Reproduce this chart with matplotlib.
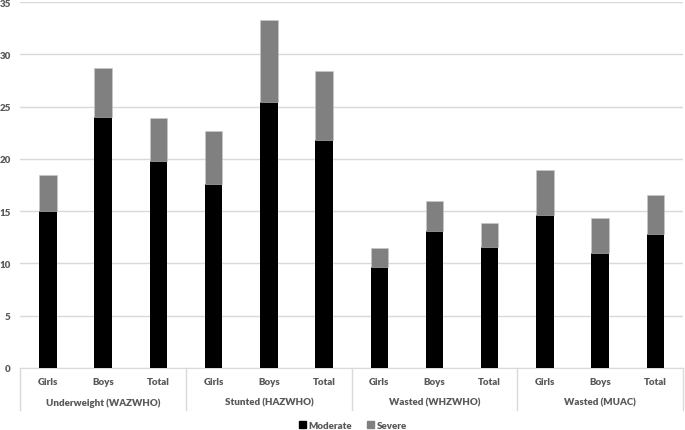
import matplotlib
matplotlib.use("Agg")
import matplotlib.pyplot as plt
from matplotlib.lines import Line2D
from matplotlib.patches import Patch

groups = ["Underweight (WAZWHO)", "Stunted (HAZWHO)", "Wasted (WHZWHO)", "Wasted (MUAC)"]
subcats = ["Girls", "Boys", "Total"]
moderate = [15.0, 24.0, 19.8, 17.6, 25.4, 21.8, 9.7, 13.1, 11.6, 14.6, 11.0, 12.8]
severe = [3.5, 4.7, 4.1, 5.1, 7.9, 6.6, 1.8, 2.9, 2.3, 4.3, 3.3, 3.7]
yticks = [0, 5, 10, 15, 20, 25, 30, 35]

plt.rcParams['font.family'] = ['Lato', 'DejaVu Sans']
txt = '#595959'
fw = 'heavy'
fig = plt.figure(figsize=(6.85, 4.31), dpi=100)
ax = fig.add_axes([0.0298, 0.1439, 0.9672, 0.8491])

n = len(moderate)
x = list(range(n))
w = 0.317
ax.bar(x, moderate, w, color='#000000', label='Moderate', zorder=3)
ax.bar(x, severe, w, bottom=moderate, color='#808080', edgecolor='#c8c8c8',
       linewidth=0.4, label='Severe', zorder=3)

ax.set_xlim(-0.5, n - 0.5)
ax.set_ylim(0, 35)
ax.set_yticks(yticks)
ax.set_yticklabels([str(v) for v in yticks], fontsize=7, fontweight=fw, color=txt)
ax.tick_params(axis='y', length=0, pad=7)
ax.set_xticks([])
ax.grid(axis='y', color='#d9d9d9', linewidth=1, zorder=0)
for s in ['top', 'right', 'left']:
    ax.spines[s].set_visible(False)
ax.spines['bottom'].set_color('#d9d9d9')

tr = ax.get_xaxis_transform()
for i in range(n):
    ax.text(i, -0.038, subcats[i % 3], transform=tr, ha='center', va='center',
            fontsize=7, fontweight=fw, color=txt)
for g, name in enumerate(groups):
    ax.text(g * 3 + 1, -0.093, name, transform=tr, ha='center', va='center',
            fontsize=7, fontweight=fw, color=txt)
for b in range(len(groups) + 1):
    ax.add_line(Line2D([b * 3 - 0.5, b * 3 - 0.5], [0, -0.115], transform=tr,
                       color='#d9d9d9', linewidth=1, clip_on=False))

handles = [Patch(color='#000000', label='Moderate'), Patch(color='#808080', label='Severe')]
fig.legend(handles=handles, loc='lower center', bbox_to_anchor=(0.515, -0.02), ncol=2,
           frameon=False, prop={'size': 7, 'weight': fw}, labelcolor=txt,
           handlelength=0.7, handleheight=0.7, handletextpad=0.3, columnspacing=1.5)

fig.savefig('out.png', dpi=100)
